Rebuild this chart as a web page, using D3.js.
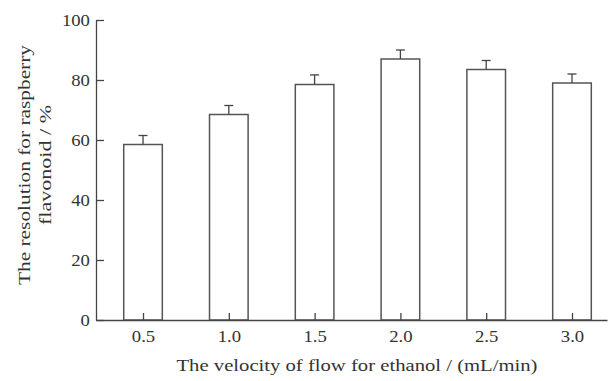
<!DOCTYPE html>
<html>
<head>
<meta charset="utf-8">
<style>
  body { margin: 0; background: #fff; }
  svg { display: block; }
  .axis text { font-family: "Liberation Serif", "DejaVu Serif", serif; font-size: 17px; fill: #333; }
  .axis path, .axis line { stroke: #444; stroke-width: 1.3; }
  .title { font-family: "Liberation Serif", "DejaVu Serif", serif; font-size: 16px; fill: #333; }
</style>
</head>
<body>
<svg width="608" height="381"></svg>
<script src="https://d3js.org/d3.v7.min.js"></script>
<script>
// flow velocity (mL/min) and resolution (%)
var velocities = [0.5, 1.0, 1.5, 2.0, 2.5, 3.0];
var resolution = [58.5, 68.5, 78.5, 87, 83.5, 79];
var errors = [3, 3, 3.2, 3, 3, 3];
var yTicks = [0, 20, 40, 60, 80, 100];

var svg = d3.select("svg");

var x = d3.scaleLinear()
    .domain([0.226, 3.204])
    .range([96, 607]);

var y = d3.scaleLinear()
    .domain([0, 100])
    .range([320, 20]);

var barW = 0.225; // in x units

var data = velocities.map(function (v, i) {
    return { v: v, r: resolution[i], e: errors[i] };
});

// bars
svg.selectAll(".bar")
    .data(data)
    .enter().append("rect")
    .attr("class", "bar")
    .attr("x", function (d) { return x(d.v - barW / 2); })
    .attr("y", function (d) { return y(d.r); })
    .attr("width", function (d) { return x(d.v + barW / 2) - x(d.v - barW / 2); })
    .attr("height", function (d) { return y(0) - y(d.r); })
    .attr("fill", "#fff")
    .attr("stroke", "#555")
    .attr("stroke-width", 1.5);

// error bars
svg.selectAll(".err")
    .data(data)
    .enter().append("line")
    .attr("x1", function (d) { return x(d.v); })
    .attr("x2", function (d) { return x(d.v); })
    .attr("y1", function (d) { return y(d.r); })
    .attr("y2", function (d) { return y(d.r + d.e); })
    .attr("stroke", "#444")
    .attr("stroke-width", 1.3);

svg.selectAll(".cap")
    .data(data)
    .enter().append("line")
    .attr("x1", function (d) { return x(d.v) - 4.5; })
    .attr("x2", function (d) { return x(d.v) + 4.5; })
    .attr("y1", function (d) { return y(d.r + d.e); })
    .attr("y2", function (d) { return y(d.r + d.e); })
    .attr("stroke", "#444")
    .attr("stroke-width", 1.3);

// x axis, ticks pointing up
var xAxis = svg.append("g")
    .attr("class", "axis")
    .attr("transform", "translate(0," + y(0) + ")")
    .call(d3.axisBottom(x)
        .tickValues(velocities)
        .tickFormat(d3.format(".1f"))
        .tickSizeInner(-7)
        .tickSizeOuter(0)
        .tickPadding(10));
xAxis.selectAll("text").attr("transform", "scale(1.1,1)")
    .attr("x", function (d) { return 0; });

// y axis, ticks pointing right
var yAxis = svg.append("g")
    .attr("class", "axis")
    .attr("transform", "translate(96,0)")
    .call(d3.axisLeft(y)
        .tickValues(yTicks)
        .tickSizeInner(-8)
        .tickSizeOuter(0)
        .tickPadding(5.5));
yAxis.selectAll("text").attr("transform", "scale(1.1,1)");

// titles
svg.append("text")
    .attr("class", "title")
    .attr("x", 357)
    .attr("y", 371)
    .attr("text-anchor", "middle")
    .attr("textLength", 361)
    .attr("lengthAdjust", "spacingAndGlyphs")
    .text("The velocity of flow for ethanol / (mL/min)");

var yt = svg.append("g")
    .attr("transform", "translate(0,165) rotate(-90)");
yt.append("text")
    .attr("class", "title")
    .attr("x", 0).attr("y", 30)
    .attr("text-anchor", "middle")
    .attr("textLength", 240)
    .attr("lengthAdjust", "spacingAndGlyphs")
    .text("The resolution for raspberry");
yt.append("text")
    .attr("class", "title")
    .attr("x", 0).attr("y", 51)
    .attr("text-anchor", "middle")
    .attr("textLength", 120)
    .attr("lengthAdjust", "spacingAndGlyphs")
    .text("flavonoid / %");
</script>
</body>
</html>
